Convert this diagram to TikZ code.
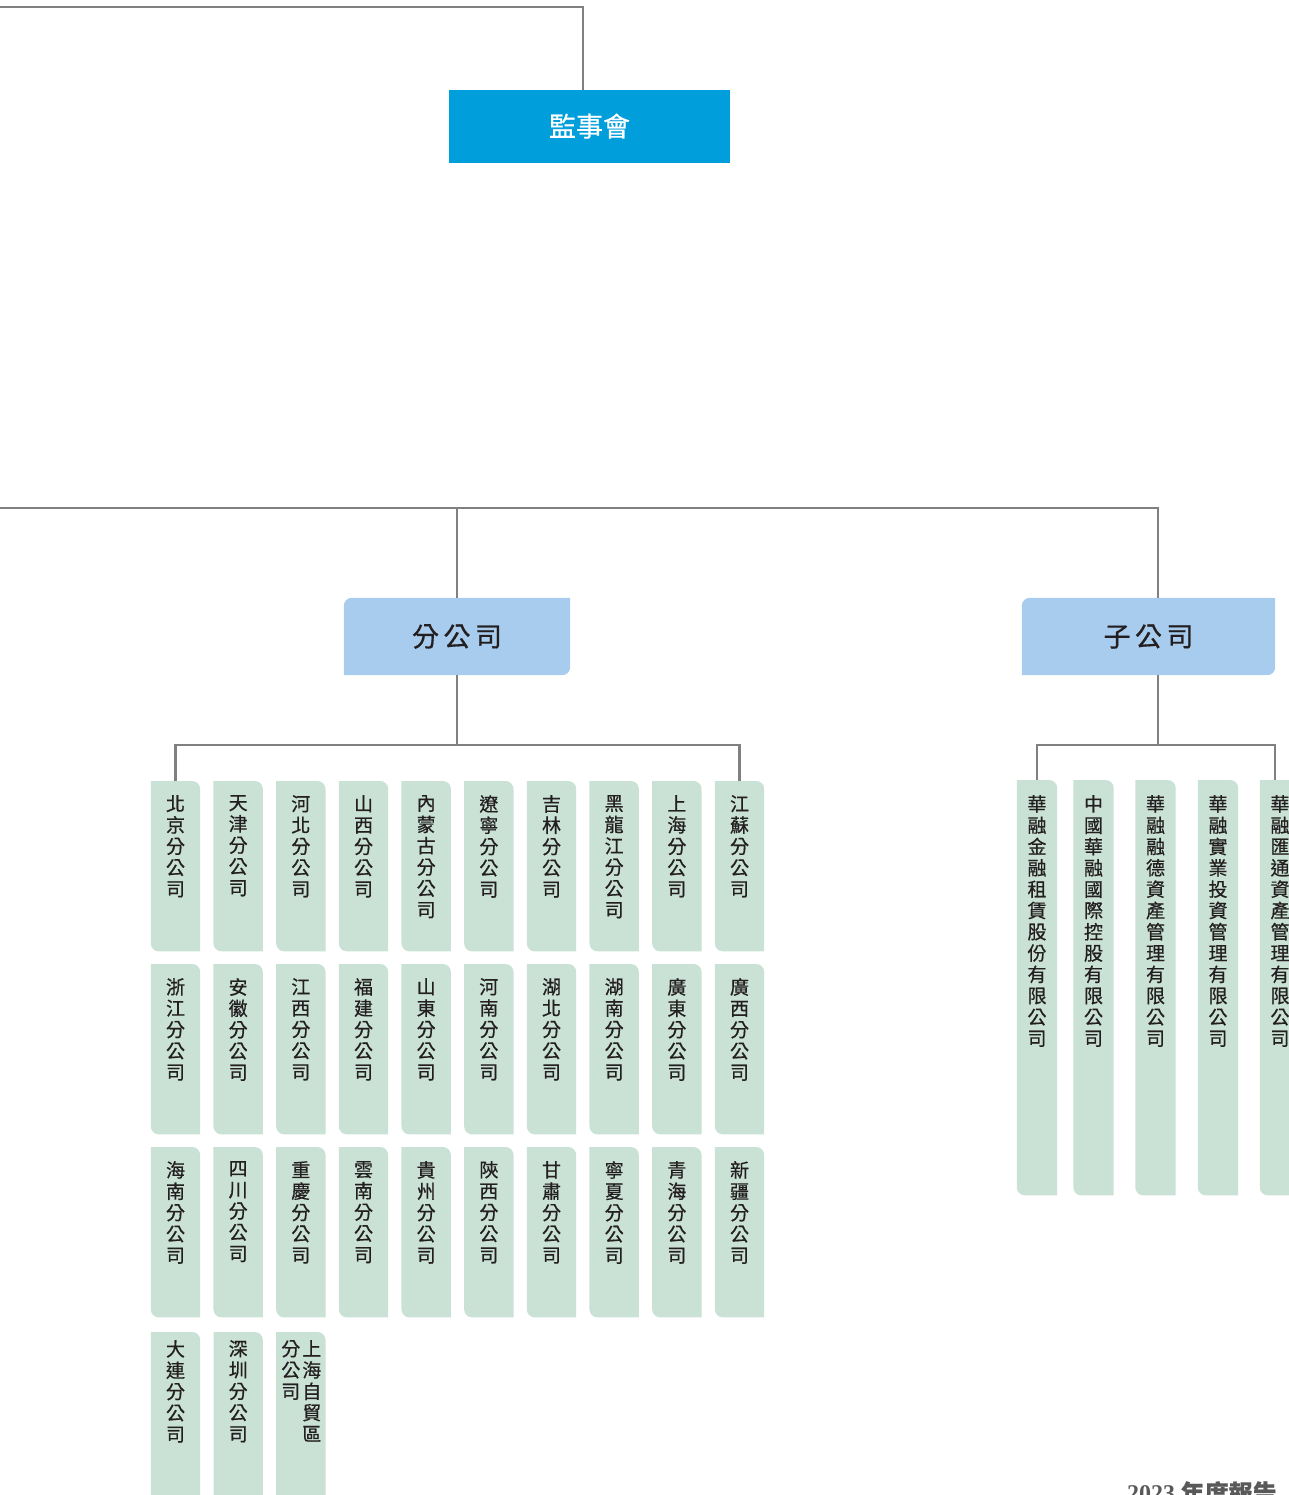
\documentclass[tikz,border=0pt]{standalone}
\usepackage{fontspec}
\setmainfont{Noto Sans CJK TC}[FakeBold=0.6]
\newfontfamily\yearfont{Liberation Serif}
\usetikzlibrary{backgrounds}

\definecolor{boardblue}{RGB}{0,158,219}
\definecolor{headblue}{RGB}{168,204,237}
\definecolor{leafgreen}{RGB}{202,226,214}
\definecolor{linegray}{RGB}{128,128,128}
\definecolor{inkdark}{RGB}{35,31,32}

\tikzset{
  conn/.style={draw=linegray, line width=2.5pt},
  board/.style={fill=boardblue, text=white, inner sep=0pt,
    minimum width=281pt, minimum height=73pt, font=\fontsize{27}{30}\selectfont},
  head/.style={text=inkdark, inner sep=0pt, minimum height=77pt,
    font=\fontsize{27}{30}\selectfont},
  leaf/.style={anchor=north, inner sep=0pt, minimum width=49pt, minimum height=170pt},
  subleaf/.style={anchor=north, inner sep=0pt, minimum width=40pt, minimum height=415pt},
  leaftext/.style={anchor=north, align=center, inner sep=0pt, text=inkdark,
    font=\fontsize{19}{21.3}\selectfont}
}

% green boxes: top right and bottom left rounded
\newcommand{\leaffill}[1]{%
  \fill[leafgreen] (#1.north) [sharp corners] -- (#1.north west) [rounded corners=8pt]
    -- (#1.south west) [sharp corners] -- (#1.south east) [rounded corners=8pt]
    -- (#1.north east) [sharp corners] -- cycle;}
% blue boxes: top left and bottom right rounded
\newcommand{\headfill}[1]{%
  \fill[headblue] (#1.north) [rounded corners=8pt] -- (#1.north west) [sharp corners]
    -- (#1.south west) [rounded corners=8pt] -- (#1.south east) [sharp corners]
    -- (#1.north east) -- cycle;}

\begin{document}
\begin{tikzpicture}[x=1pt, y=-1pt]
  \useasboundingbox (0,0) rectangle (1288,1495);

  % supervisors
  \node[board] (jsh) at (589.5,126.5) {\raisebox{3pt}{監事會}};
  \coordinate (boardin) at (0,7);
  \draw[conn] (boardin) -| ([xshift=-6.5pt]jsh.north);

  % branches and subsidiaries
  \node[head, minimum width=226pt] (fen) at (457,636.5) {分\,公\,司};
  \node[head, minimum width=253pt] (zi) at (1148.5,636.5) {子\,公\,司};
  \coordinate (midin) at (0,508);
  \draw[conn] (midin) -| ([xshift=9.5pt]zi.north);
  \draw[conn] (fen.north) -- (fen.north |- midin);

  % branch grid
  \foreach \r/\y/\names in {
      1/781/{北\\京,天\\津,河\\北,山\\西,內\\蒙\\古,遼\\寧,吉\\林,黑\\龍\\江,上\\海,江\\蘇},
      2/964/{浙\\江,安\\徽,江\\西,福\\建,山\\東,河\\南,湖\\北,湖\\南,廣\\東,廣\\西},
      3/1147/{海\\南,四\\川,重\\慶,雲\\南,貴\\州,陝\\西,甘\\肅,寧\\夏,青\\海,新\\疆}}
    \foreach \t [count=\c] in \names {
      \node[leaf] (b\r-\c) at ({175.5+62.67*(\c-1)},\y) {};
      \node[leaftext] (b\r-\c-t) at ([yshift=-14pt]b\r-\c.north) {\t\\分\\公\\司};
    }
  \node[leaf] (b4-1) at (175.5,1332) {};
  \node[leaftext] (b4-1-t) at ([yshift=-8pt]b4-1.north) {大\\連\\分\\公\\司};
  \node[leaf] (b4-2) at (238.2,1332) {};
  \node[leaftext] (b4-2-t) at ([yshift=-8pt]b4-2.north) {深\\圳\\分\\公\\司};
  \node[leaf] (b4-3) at (300.8,1332) {};
  \node[leaftext] (b4-3-a) at ([xshift=11pt,yshift=-8pt]b4-3.north) {上\\海\\自\\貿\\區};
  \node[leaftext] (b4-3-b) at ([xshift=-10pt,yshift=-8pt]b4-3.north) {分\\公\\司};

  \coordinate (fenbus) at (457,745);
  \draw[conn] (fen.south) -- (fenbus);
  \draw[conn] (b1-1.north) |- (fenbus) -| (b1-10.north);

  % subsidiaries
  \node[subleaf] (s1) at (1037,780) {};
  \node[subleaf] (s2) at (1093.5,780) {};
  \node[subleaf] (s3) at (1155.5,780) {};
  \node[subleaf] (s4) at (1218,780) {};
  \node[subleaf] (s5) at (1280,780) {};
  \node[leaftext] (s1-t) at ([yshift=-15pt]s1.north)
    {華\\融\\金\\融\\租\\賃\\股\\份\\有\\限\\公\\司};
  \node[leaftext] (s2-t) at ([yshift=-15pt]s2.north)
    {中\\國\\華\\融\\國\\際\\控\\股\\有\\限\\公\\司};
  \node[leaftext] (s3-t) at ([yshift=-15pt]s3.north)
    {華\\融\\融\\德\\資\\產\\管\\理\\有\\限\\公\\司};
  \node[leaftext] (s4-t) at ([yshift=-15pt]s4.north)
    {華\\融\\實\\業\\投\\資\\管\\理\\有\\限\\公\\司};
  \node[leaftext] (s5-t) at ([yshift=-15pt]s5.north)
    {華\\融\\匯\\通\\資\\產\\管\\理\\有\\限\\公\\司};

  \path ([xshift=9.5pt]zi.south) coordinate (zidown);
  \coordinate (zibus) at (zidown |- fenbus);
  \draw[conn] (zidown) -- (zibus);
  \draw[conn] (s1.north) |- (zibus) -| ([xshift=-5pt]s5.north);

  % box fills
  \begin{scope}[on background layer]
    \headfill{fen}
    \headfill{zi}
    \foreach \r in {1,2,3} {
      \foreach \c in {1,...,10} {\leaffill{b\r-\c}}
    }
    \foreach \c in {1,2,3} {\leaffill{b4-\c}}
    \foreach \c in {1,...,5} {\leaffill{s\c}}
  \end{scope}

  \node[anchor=north west, inner sep=0pt, text=black!65,
    font=\fontsize{24}{26}\selectfont\bfseries] (report) at (1127,1481)
    {{\yearfont 2023} 年度報告};
\end{tikzpicture}
\end{document}
